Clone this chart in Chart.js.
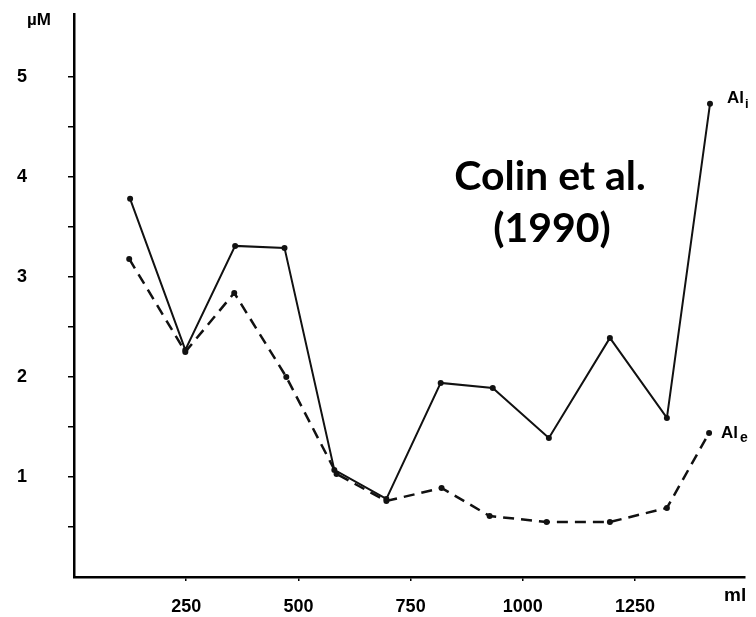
<!DOCTYPE html>
<html>
<head>
<meta charset="utf-8">
<script src="https://cdn.jsdelivr.net/npm/chart.js@4"></script>
<style>
  html, body { margin: 0; padding: 0; background: #fff; }
  canvas { display: block; }
</style>
</head>
<body>
<canvas id="chart" width="756" height="617"></canvas>
<script>
// volume (ml) and concentration (µM)
const aliVolume = [125, 248, 359, 469, 580, 696, 817, 933, 1058, 1194, 1321, 1417];
const aliValues = [3.78, 2.27, 3.31, 3.29, 1.07, 0.78, 1.94, 1.89, 1.39, 2.39, 1.59, 4.73];

const aleVolume = [123, 248, 357, 473, 585, 696, 819, 926, 1053, 1194, 1321, 1415];
const aleValues = [3.18, 2.25, 2.84, 2.0, 1.03, 0.76, 0.89, 0.61, 0.55, 0.55, 0.69, 1.44];

const xTicks = [250, 500, 750, 1000, 1250];
const yTicks = [0.5, 1, 1.5, 2, 2.5, 3, 3.5, 4, 4.5, 5];

const toPoints = (xs, ys) => xs.map((x, i) => ({ x, y: ys[i] }));

const labelsPlugin = {
  id: "labels",
  afterDraw(chart) {
    const ctx = chart.ctx;
    ctx.save();
    ctx.fillStyle = "#000";

    // axis units
    ctx.textAlign = "left";
    ctx.textBaseline = "alphabetic";
    ctx.font = "bold 17px 'Liberation Sans'";
    ctx.fillText("µM", 27, 25);
    ctx.font = "bold 19px 'Liberation Sans'";
    ctx.fillText("ml", 724, 601);

    // series labels with subscripts
    const lastI = chart.getDatasetMeta(0).data.at(-1);
    const lastE = chart.getDatasetMeta(1).data.at(-1);
    ctx.font = "bold 17px 'Liberation Sans'";
    ctx.fillText("Al", lastI.x + 17, lastI.y - 1);
    ctx.fillText("Al", lastE.x + 12, lastE.y + 5);
    ctx.font = "bold 13px 'Liberation Sans'";
    ctx.fillText("i", lastI.x + 35, lastI.y + 4);
    ctx.font = "bold 14px 'Liberation Sans'";
    ctx.fillText("e", lastE.x + 31, lastE.y + 9);

    // citation
    ctx.textAlign = "center";
    ctx.font = "bold 100px Lato";
    const w = ctx.measureText("Colin et al.").width;
    const size = Math.round(100 * 190 / w);
    ctx.font = "bold " + size + "px Lato";
    ctx.fillText("Colin et al.", 550, 190);
    ctx.fillText("(1990)", 552, 242);
    ctx.restore();
  }
};

const bgPlugin = {
  id: "bg",
  beforeDraw(chart) {
    const ctx = chart.ctx;
    ctx.save();
    ctx.fillStyle = "#fff";
    ctx.fillRect(0, 0, chart.width, chart.height);
    ctx.restore();
  }
};

new Chart(document.getElementById("chart"), {
  type: "line",
  data: {
    datasets: [
      {
        label: "Ali",
        data: toPoints(aliVolume, aliValues),
        borderColor: "#111",
        backgroundColor: "#111",
        borderWidth: 2,
        pointRadius: 3,
        pointBorderWidth: 0,
        tension: 0
      },
      {
        label: "Ale",
        data: toPoints(aleVolume, aleValues),
        borderColor: "#111",
        backgroundColor: "#111",
        borderWidth: 2.5,
        borderDash: [11, 7],
        pointRadius: 3,
        pointBorderWidth: 0,
        tension: 0
      }
    ]
  },
  options: {
    responsive: false,
    animation: false,
    layout: { padding: { left: 17, right: 11, top: 12, bottom: 0 } },
    plugins: {
      legend: { display: false },
      tooltip: { enabled: false }
    },
    scales: {
      x: {
        type: "linear",
        min: 0,
        max: 1495,
        afterBuildTicks: (scale) => { scale.ticks = xTicks.map(v => ({ value: v })); },
        afterFit: (scale) => { scale.height = 40; },
        border: { color: "#000", width: 2.5 },
        grid: { drawOnChartArea: false, drawTicks: true, tickLength: 4, color: "#000", lineWidth: 1.5 },
        ticks: {
          color: "#000",
          padding: 15,
          maxRotation: 0,
          font: { family: "'Liberation Sans'", size: 18, weight: "bold" },
          callback: (v) => String(v)
        }
      },
      y: {
        min: 0,
        max: 5.63,
        afterBuildTicks: (scale) => { scale.ticks = yTicks.map(v => ({ value: v })); },
        afterFit: (scale) => { scale.width = 57; },
        border: { color: "#000", width: 2.5 },
        grid: { drawOnChartArea: false, drawTicks: true, tickLength: 6, color: "#000", lineWidth: 1.5 },
        ticks: {
          color: "#000",
          padding: 3,
          crossAlign: "far",
          font: { family: "'Liberation Sans'", size: 18, weight: "bold" },
          callback: (v) => Number.isInteger(v) ? String(v) : ""
        }
      }
    }
  },
  plugins: [bgPlugin, labelsPlugin]
});
</script>
</body>
</html>
